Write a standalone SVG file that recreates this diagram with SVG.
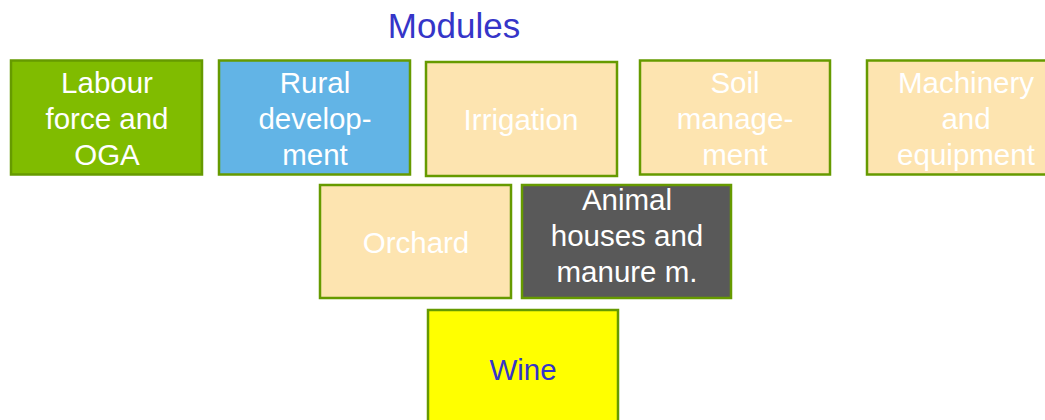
<svg xmlns="http://www.w3.org/2000/svg" width="1045" height="420" viewBox="0 0 1045 420">
<style>
.box{stroke:#669a00;stroke-width:2.5}
.t{font-family:"Liberation Sans",Arial,sans-serif;font-size:29.5px;text-anchor:middle;fill:#ffffff}
.tan{fill:#fde4b0}
</style>
<rect width="1045" height="420" fill="#ffffff"/>
<text x="454" y="38" style="font-family:'Liberation Sans',Arial,sans-serif;font-size:35px;text-anchor:middle;fill:#3535c8">Modules</text>
<g id="labour"><rect class="box" x="11" y="60.5" width="191" height="114" fill="#80bc00"/>
<text class="t" x="107" y="93">Labour</text><text class="t" x="107" y="129">force and</text><text class="t" x="107" y="165">OGA</text></g>
<g id="rural"><rect class="box" x="219" y="60.5" width="191" height="114" fill="#62b4e6"/>
<text class="t" x="315" y="93">Rural</text><text class="t" x="315" y="129">develop-</text><text class="t" x="315" y="165">ment</text></g>
<g id="irrigation"><rect class="box tan" x="426" y="62" width="191" height="114"/>
<text class="t" x="521" y="130">Irrigation</text></g>
<g id="soil"><rect class="box tan" x="640" y="60.5" width="190" height="114"/>
<text class="t" x="735" y="93">Soil</text><text class="t" x="735" y="129">manage-</text><text class="t" x="735" y="165">ment</text></g>
<g id="machinery"><rect class="box tan" x="867" y="60.5" width="196" height="114"/>
<text class="t" x="966" y="93">Machinery</text><text class="t" x="966" y="129">and</text><text class="t" x="966" y="165">equipment</text></g>
<g id="orchard"><rect class="box tan" x="320" y="185" width="191" height="113"/>
<text class="t" x="416" y="253">Orchard</text></g>
<g id="animal"><rect class="box" x="522" y="185" width="209" height="113" fill="#595959"/>
<text class="t" x="627" y="210">Animal</text><text class="t" x="627" y="246">houses and</text><text class="t" x="627" y="282">manure m.</text></g>
<g id="wine"><rect class="box" x="428" y="310" width="190" height="120" fill="#ffff00"/>
<text class="t" x="523" y="380" style="fill:#3535c8">Wine</text></g>
<g id="connectors"></g>
</svg>
